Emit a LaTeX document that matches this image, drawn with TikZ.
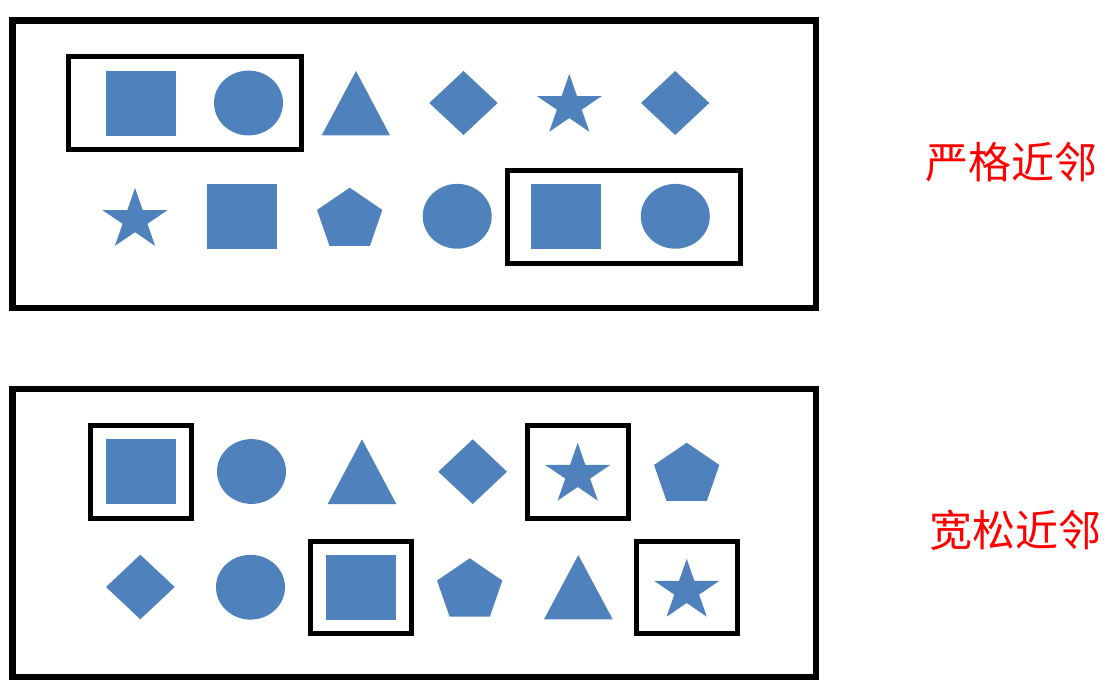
\documentclass[tikz,border=0pt]{standalone}
\usepackage{fontspec}
\newfontfamily\cjk{Noto Sans CJK SC}
\definecolor{shapeblue}{HTML}{4F81BD}
\tikzstyle{every node}=[red, font=\cjk\fontsize{43}{50}\selectfont]
\tikzset{
  starpic/.pic={\fill[shapeblue, xscale=1.07, yscale=-1] (90:32)
    \foreach \a in {0,...,4} {-- (126+72*\a:12.2) -- (162+72*\a:32)} -- cycle;},
  pentpic/.pic={\fill[shapeblue, xscale=1.066, yscale=-1] (90:32.2)
    \foreach \a in {1,...,4} {-- (90+72*\a:32.2)} -- cycle;}
}

\begin{document}
\begin{tikzpicture}[x=1pt, y=-1pt]
\useasboundingbox (0,0) rectangle (1107,695);
% Frames
    \draw[line width=6.5] (12.5,20.5) rectangle (816,308);
    \draw[line width=6.5] (12.5,389) rectangle (816,677);
% Neighbour boxes
    \draw[line width=5] (68,56.5) rectangle (301.5,149.5);
    \draw[line width=5] (507,170.7) rectangle (740.3,263.3);
    \draw[line width=5] (90,425.5) rectangle (191,518.3);
    \draw[line width=5] (527.5,425.3) rectangle (628.7,518);
    \draw[line width=5] (310.7,541.2) rectangle (411.3,633.7);
    \draw[line width=5] (636.7,541.2) rectangle (737.2,633.7);
% Squares
    \fill[shapeblue] (106,70.7) rectangle (176,135.7);
    \fill[shapeblue] (207,184) rectangle (277,248.7);
    \fill[shapeblue] (531,184) rectangle (601,248.7);
    \fill[shapeblue] (106,439) rectangle (176,504);
    \fill[shapeblue] (326,554.7) rectangle (396,619.7);
% Circles
    \fill[shapeblue] (248.5,103) ellipse (34.5 and 32.4);
    \fill[shapeblue] (457.2,216.3) ellipse (34.5 and 32.4);
    \fill[shapeblue] (675.3,216.3) ellipse (34.5 and 32.4);
    \fill[shapeblue] (251.5,471.5) ellipse (34.5 and 32.4);
    \fill[shapeblue] (250.5,587.2) ellipse (34.5 and 32.4);
% Triangles
    \fill[shapeblue] (356,71) -- (390,135.3) -- (321.7,135.3) -- cycle;
    \fill[shapeblue] (362,439.3) -- (396.3,504) -- (327.7,504) -- cycle;
    \fill[shapeblue] (578.3,555) -- (612.7,619.3) -- (544,619.3) -- cycle;
% Diamonds
    \fill[shapeblue] (429.3,103) -- (463.5,71) -- (497.7,103) -- (463.5,135) -- cycle;
    \fill[shapeblue] (641,103) -- (675.2,71) -- (709.3,103) -- (675.2,135) -- cycle;
    \fill[shapeblue] (438.3,471.7) -- (472.7,439.3) -- (507,471.7) -- (472.7,504) -- cycle;
    \fill[shapeblue] (106,587) -- (140.3,554.7) -- (174.7,587) -- (140.3,619.3) -- cycle;
% Stars
    \pic at (569.3,105.9) {starpic};
    \pic at (135,220) {starpic};
    \pic at (577.7,474.8) {starpic};
    \pic at (686.7,590.8) {starpic};
% Pentagons
    \pic at (349.7,219.9) {pentpic};
    \pic at (686.7,474.9) {pentpic};
    \pic at (469.7,590.5) {pentpic};
% Labels
    \node (strict) at (1011.7,162.5) {严格近邻};
    \node (loose) at (1015.8,530) {宽松近邻};
\end{tikzpicture}
\end{document}
